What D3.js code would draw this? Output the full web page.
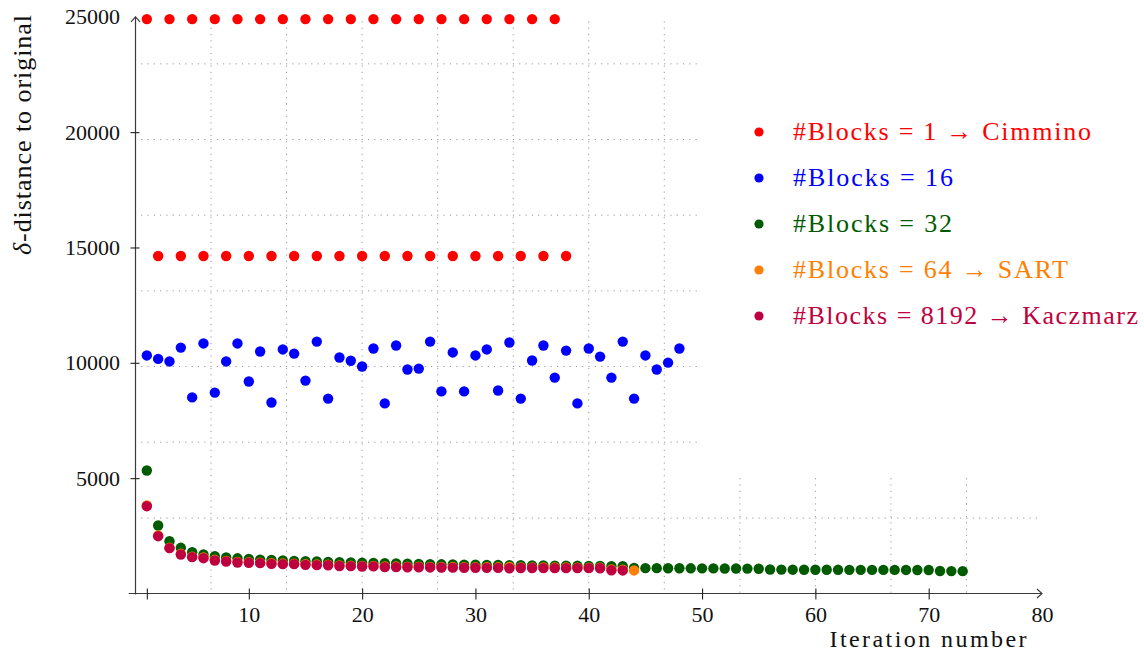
<!DOCTYPE html>
<html>
<head>
<meta charset="utf-8">
<script src="https://cdn.jsdelivr.net/npm/d3@7"></script>
<style>
  body { margin: 0; background: #fff; }
  svg text { font-family: "Liberation Serif", "DejaVu Serif", "Noto Serif", serif !important; }
</style>
</head>
<body>
<svg id="chart" width="1144" height="653"></svg>
<script>
// δ-distance to the original image per iteration, for several block counts
const cimmino = [24900,14630,24900,14630,24900,14630,24900,14630,24900,14630,
                 24900,14630,24900,14630,24900,14630,24900,14630,24900,14630,
                 24900,14630,24900,14630,24900,14630,24900,14630,24900,14630,
                 24900,14630,24900,14630,24900,14630,24900,14630];
const blocks16 = [10320,10170,10060,10660,8500,10840,8710,10060,10840,9190,
                  10490,8280,10580,10400,9230,10920,8450,10230,10090,9840,
                  10620,8240,10750,9710,9750,10920,8760,10450,8760,10320,
                  10580,8800,10880,8450,10100,10750,9360,10530,8240,10620,
                  10270,9360,10920,8450,10320,9710,10010,10620];
const blocks32 = [5332,2948,2267,1981,1792,1690,1618,1565,1525,1495,
                  1470,1450,1430,1415,1400,1385,1370,1355,1345,1330,
                  1320,1310,1300,1290,1280,1272,1265,1258,1252,1246,
                  1240,1235,1230,1225,1220,1215,1210,1205,1200,1195,
                  1190,1185,1180,1110,1100,1098,1096,1094,1092,1090,
                  1088,1086,1084,1080,1075,1040,1035,1032,1030,1030,
                  1028,1027,1026,1025,1024,1023,1022,1021,1020,1018,
                  975,970,968];
const sart = [3820,2520,1990,1720,1600,1560,1460,1415,1370,1355,
              1340,1310,1298,1296,1268,1254,1250,1215,1210,1196,
              1198,1170,1168,1165,1164,1156,1150,1146,1143,1140,
              1138,1135,1150,1130,1130,1127,1125,1124,1122,1122,
              1120,1040,1035,1000];
const kaczmarz = [3785,2485,1965,1690,1575,1531,1430,1387,1344,1330,
                  1315,1286,1272,1272,1243,1229,1225,1190,1185,1170,
                  1175,1145,1142,1140,1140,1130,1125,1120,1118,1115,
                  1112,1110,1095,1105,1105,1102,1100,1100,1098,1098,
                  1095,1005,1000];

const seriesNames = ["#Blocks = 1 \u2192 Cimmino", "#Blocks = 16", "#Blocks = 32",
                     "#Blocks = 64 \u2192 SART", "#Blocks = 8192 \u2192 Kaczmarz"];
const seriesColors = ["#ff0000", "#0000ff", "#005a00", "#ff8000", "#bf0040"];
const seriesValues = [cimmino, blocks16, blocks32, sart, kaczmarz];

const xTicks = [1, 10, 20, 30, 40, 50, 60, 70, 80];
const yTicks = [5000, 10000, 15000, 20000, 25000];
const xGrid = [20/3, 40/3, 20, 80/3, 100/3, 40, 140/3, 160/3, 60, 200/3, 220/3];
const yGrid = [3270, 6560, 9840, 13120, 16400, 19680, 22960];

// layout
const legendTextWidths = [298, 160, 159, 275, 345];
const serif = '"Liberation Serif", "DejaVu Serif", "Noto Serif", serif';

const svg = d3.select("#chart").attr("font-family", serif);
const x = d3.scaleLinear().domain([0, 80]).range([135.5, 1042]);
const y = d3.scaleLinear().domain([0, 25000]).range([593.5, 16.8]);

// dotted grid: upper block only covers the left part, lower block spans wider
const grid = svg.append("g")
  .attr("stroke", "#9a9a9a").attr("stroke-width", 1)
  .attr("stroke-dasharray", "1.2 5.1").attr("fill", "none");
xGrid.forEach((g, i) => {
  const top = i < 7 ? 24800 : 5000;
  grid.append("line").attr("x1", x(g)).attr("x2", x(g))
    .attr("y1", y(top)).attr("y2", y(0));
});
yGrid.forEach((g, i) => {
  const right = i === 0 ? 80 : 49.7;
  grid.append("line").attr("x1", x(0.5)).attr("x2", x(right))
    .attr("y1", y(g)).attr("y2", y(g));
});

// axis lines with arrow heads
const axisColor = "#3a3a3a";
svg.append("line").attr("x1", x(-0.6)).attr("x2", x(80))
  .attr("y1", y(0)).attr("y2", y(0)).attr("stroke", axisColor).attr("stroke-width", 1.2);
svg.append("line").attr("x1", x(0)).attr("x2", x(0))
  .attr("y1", y(0) + 1).attr("y2", y(25000)).attr("stroke", axisColor).attr("stroke-width", 1.2);
svg.append("path")
  .attr("d", `M${x(80) - 5},${y(0) - 4.5} L${x(80)},${y(0)} L${x(80) - 5},${y(0) + 4.5}`)
  .attr("fill", "none").attr("stroke", axisColor).attr("stroke-width", 1.1);
svg.append("path")
  .attr("d", `M${x(0) - 4.5},${y(25000) + 5} L${x(0)},${y(25000)} L${x(0) + 4.5},${y(25000) + 5}`)
  .attr("fill", "none").attr("stroke", axisColor).attr("stroke-width", 1.1);

// x axis ticks and labels
const xAxis = svg.append("g").attr("transform", `translate(0,${y(0)})`)
  .call(d3.axisBottom(x).tickValues(xTicks).tickSize(6)
    .tickFormat(d => d === 1 ? "" : d));
xAxis.attr("font-family", serif);
xAxis.select(".domain").remove();
xAxis.selectAll(".tick line").attr("y1", -5).attr("y2", 6)
  .attr("stroke", "#222").attr("stroke-width", 1.1)
  .filter(d => d === 80).remove();
xAxis.selectAll(".tick text").attr("y", 28.5).attr("dy", 0)
  .attr("font-size", 22).attr("fill", "#111");

// y axis ticks and labels
const yAxis = svg.append("g").attr("transform", `translate(${x(0)},0)`)
  .call(d3.axisLeft(y).tickValues(yTicks).tickSize(5).tickFormat(d => d));
yAxis.attr("font-family", serif);
yAxis.select(".domain").remove();
yAxis.selectAll(".tick line").attr("x1", -5).attr("x2", 4)
  .attr("stroke", "#222").attr("stroke-width", 1.1)
  .filter(d => d === 25000).remove();
yAxis.selectAll(".tick text").attr("x", -15.5).attr("dy", "0.32em")
  .attr("font-size", 22).attr("fill", "#111");

// axis titles
svg.append("text").attr("x", 928).attr("y", 647).attr("text-anchor", "middle")
  .attr("font-size", 24).attr("fill", "#111")
  .attr("textLength", 197).attr("lengthAdjust", "spacing")
  .text("Iteration number");
const yTitle = svg.append("text")
  .attr("transform", "translate(31,135) rotate(-90)")
  .attr("text-anchor", "middle").attr("font-size", 26).attr("fill", "#111")
  .attr("textLength", 240).attr("lengthAdjust", "spacing");
yTitle.append("tspan").attr("font-style", "italic").text("\u03b4");
yTitle.append("tspan").text("-distance to original");

// data points
seriesValues.forEach((vals, s) => {
  svg.append("g").attr("fill", seriesColors[s])
    .selectAll("circle").data(vals).join("circle")
    .attr("cx", (d, i) => x(i + 1))
    .attr("cy", d => y(d))
    .attr("r", 5.2);
});

// legend
const legend = svg.append("g");
seriesNames.forEach((name, i) => {
  const row = legend.append("g").attr("transform", `translate(759,${132 + i * 46})`);
  row.append("circle").attr("r", 4.6).attr("fill", seriesColors[i]);
  row.append("text").attr("x", 34).attr("y", 7.5)
    .attr("font-size", 26).attr("fill", seriesColors[i])
    .attr("textLength", legendTextWidths[i]).attr("lengthAdjust", "spacing")
    .text(name);
});
</script>
</body>
</html>
